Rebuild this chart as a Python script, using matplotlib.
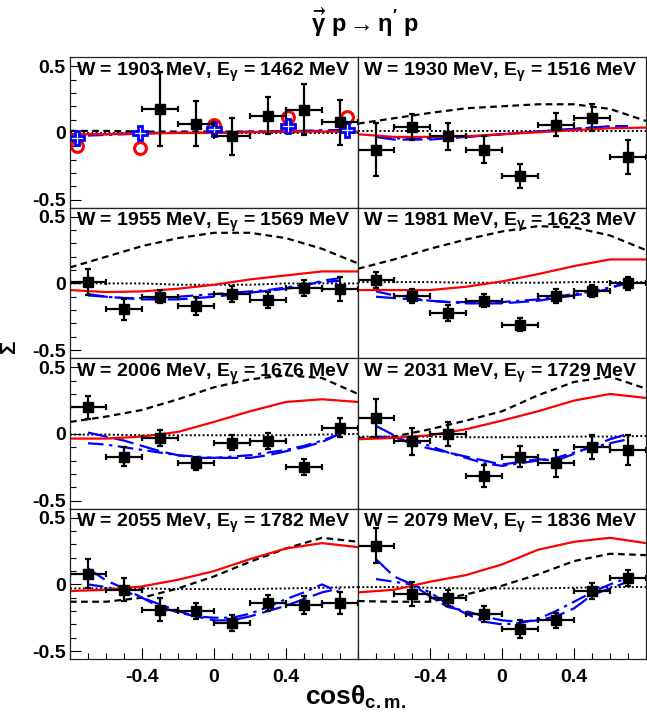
import numpy as np
import matplotlib
matplotlib.use('Agg')
import matplotlib.pyplot as plt
from matplotlib.ticker import MultipleLocator, FixedLocator, FuncFormatter

plt.rcParams['font.family'] = 'Liberation Sans'
plt.rcParams['font.weight'] = 'bold'
plt.rcParams['mathtext.fontset'] = 'custom'
plt.rcParams['mathtext.rm'] = 'Liberation Sans:bold'
plt.rcParams['mathtext.bf'] = 'Liberation Sans:bold'
plt.rcParams['mathtext.it'] = 'Liberation Sans:bold'
plt.rcParams['mathtext.default'] = 'regular'
plt.rcParams['axes.unicode_minus'] = False

# energy bins
W_vals = [1903, 1930, 1955, 1981, 2006, 2031, 2055, 2079]
Eg_vals = [1462, 1516, 1569, 1623, 1676, 1729, 1782, 1836]

# measured beam asymmetry (this work)
cos_data = [-0.7, -0.5, -0.3, -0.1, 0.1, 0.3, 0.5, 0.7]
cos_halfwidth = 0.1
sigma = [
    [np.nan, np.nan, 0.18, 0.07, -0.025, 0.13, 0.175, 0.08],
    [-0.125, 0.045, -0.025, -0.125, -0.32, 0.063, 0.115, -0.18],
    [0.01, -0.195, -0.10, -0.17, -0.08, -0.125, -0.035, -0.045],
    [0.025, -0.095, -0.22, -0.13, -0.31, -0.095, -0.06, 0.0],
    [0.20, -0.17, -0.03, -0.22, -0.065, -0.055, -0.25, 0.047],
    [0.12, -0.055, 0.0, -0.315, -0.17, -0.22, -0.10, -0.12],
    [0.08, -0.04, -0.19, -0.20, -0.29, -0.14, -0.155, -0.14],
    [0.29, -0.07, -0.10, -0.22, -0.335, -0.27, -0.05, 0.045],
]
sigma_err = [
    [np.nan, np.nan, 0.28, 0.17, 0.14, 0.14, 0.19, 0.17],
    [0.20, 0.095, 0.10, 0.10, 0.09, 0.085, 0.10, 0.13],
    [0.10, 0.08, 0.05, 0.07, 0.06, 0.06, 0.06, 0.09],
    [0.06, 0.05, 0.06, 0.05, 0.05, 0.05, 0.045, 0.05],
    [0.085, 0.07, 0.06, 0.05, 0.055, 0.06, 0.06, 0.07],
    [0.14, 0.10, 0.09, 0.08, 0.08, 0.10, 0.09, 0.11],
    [0.11, 0.085, 0.085, 0.06, 0.06, 0.06, 0.07, 0.08],
    [0.13, 0.09, 0.06, 0.06, 0.07, 0.055, 0.06, 0.06],
]

# earlier measurements in the first bin
cos_prev = [-0.76, -0.41, 0.0, 0.41, 0.74]
sigma_prev_red = [-0.10, -0.11, 0.06, 0.12, 0.12]
sigma_prev_blue = [-0.04, 0.0, 0.03, 0.05, 0.025]

# model curves
cos_model = [-0.8, -0.6, -0.4, -0.2, 0.0, 0.2, 0.4, 0.6, 0.8]
model_dashed = [
    [0.015, 0.015, 0.01, 0.01, 0.01, 0.01, 0.01, 0.01, 0.01],
    [0.07, 0.11, 0.15, 0.185, 0.20, 0.215, 0.215, 0.18, 0.09],
    [0.12, 0.20, 0.28, 0.34, 0.38, 0.38, 0.34, 0.26, 0.15],
    [0.11, 0.18, 0.26, 0.33, 0.39, 0.43, 0.42, 0.36, 0.25],
    [0.09, 0.13, 0.18, 0.26, 0.35, 0.41, 0.44, 0.42, 0.30],
    [-0.03, -0.02, 0.035, 0.10, 0.17, 0.29, 0.39, 0.43, 0.34],
    [-0.13, -0.13, -0.10, -0.03, 0.06, 0.17, 0.27, 0.35, 0.32],
    [-0.125, -0.13, -0.13, -0.075, -0.01, 0.075, 0.175, 0.23, 0.22],
]
model_red = [
    [-0.01, -0.01, -0.005, 0.0, 0.0, 0.005, 0.01, 0.01, 0.01],
    [-0.01, -0.03, -0.03, -0.025, -0.01, 0.005, 0.02, 0.035, 0.04],
    [-0.05, -0.065, -0.06, -0.04, -0.01, 0.03, 0.06, 0.09, 0.09],
    [-0.05, -0.05, -0.05, -0.025, 0.015, 0.07, 0.13, 0.18, 0.18],
    [-0.035, -0.035, -0.02, 0.015, 0.09, 0.17, 0.24, 0.26, 0.24],
    [-0.04, -0.03, -0.01, 0.035, 0.10, 0.17, 0.25, 0.30, 0.27],
    [-0.05, -0.04, -0.015, 0.035, 0.10, 0.19, 0.27, 0.31, 0.28],
    [-0.06, -0.04, 0.02, 0.07, 0.15, 0.26, 0.32, 0.35, 0.31],
]
model_dotted = [
    [0.0, 0.0, 0.0, 0.0, 0.0, 0.0, 0.0, 0.0, 0.0],
    [0.015, 0.015, 0.015, 0.015, 0.015, 0.015, 0.015, 0.015, 0.015],
    [0.0, 0.0, 0.0, -0.01, -0.01, -0.01, 0.0, 0.0, 0.0],
    [0.01, 0.01, 0.01, 0.005, 0.005, 0.005, 0.01, 0.01, 0.01],
    [-0.005, -0.005, -0.01, -0.01, -0.01, -0.01, -0.01, -0.005, 0.0],
    [-0.02, -0.02, -0.02, -0.025, -0.025, -0.025, -0.02, -0.02, -0.015],
    [-0.03, -0.03, -0.03, -0.035, -0.035, -0.035, -0.03, -0.025, -0.02],
    [-0.02, -0.02, -0.025, -0.03, -0.03, -0.03, -0.025, -0.02, -0.02],
]

cos_blue = [-0.7, -0.6, -0.5, -0.4, -0.3, -0.2, -0.1, 0.0, 0.1, 0.2, 0.3, 0.4, 0.5, 0.6, 0.7]
blue_dashed = [
    [-0.01, -0.01, -0.005, 0.0, 0.0, 0.0, 0.0, 0.0, 0.005, 0.005, 0.01, 0.01, 0.015, 0.015, 0.02],
    [-0.03, -0.05, -0.05, -0.05, -0.04, -0.03, -0.02, -0.01, 0.0, 0.01, 0.02, 0.03, 0.04, 0.05, 0.05],
    [-0.08, -0.10, -0.11, -0.12, -0.12, -0.12, -0.11, -0.10, -0.085, -0.07, -0.055, -0.04, -0.02, 0.02, 0.04],
    [-0.10, -0.11, -0.12, -0.13, -0.14, -0.14, -0.15, -0.15, -0.14, -0.13, -0.11, -0.09, -0.07, -0.04, 0.02],
    [0.01, -0.02, -0.05, -0.09, -0.13, -0.16, -0.18, -0.18, -0.18, -0.18, -0.16, -0.13, -0.10, -0.06, 0.0],
    [0.06, -0.01, -0.08, -0.11, -0.14, -0.17, -0.20, -0.23, -0.21, -0.19, -0.20, -0.15, -0.09, -0.04, 0.0],
    [0.12, 0.03, -0.03, -0.10, -0.17, -0.21, -0.24, -0.27, -0.27, -0.24, -0.20, -0.16, -0.11, -0.06, -0.03],
    [0.19, 0.06, 0.0, -0.09, -0.17, -0.20, -0.24, -0.27, -0.28, -0.27, -0.24, -0.18, -0.08, -0.03, 0.02],
]
blue_dashdot = [
    [-0.02, -0.015, -0.01, -0.005, 0.0, 0.0, 0.0, 0.005, 0.005, 0.01, 0.01, 0.015, 0.015, 0.02, 0.02],
    [-0.02, -0.04, -0.045, -0.04, -0.035, -0.03, -0.02, -0.01, 0.0, 0.01, 0.02, 0.03, 0.04, 0.05, 0.05],
    [-0.09, -0.10, -0.11, -0.11, -0.11, -0.10, -0.09, -0.08, -0.07, -0.06, -0.05, -0.03, -0.01, 0.01, 0.02],
    [-0.06, -0.09, -0.11, -0.13, -0.14, -0.15, -0.15, -0.14, -0.13, -0.12, -0.10, -0.08, -0.06, -0.03, 0.0],
    [-0.07, -0.08, -0.10, -0.12, -0.14, -0.16, -0.17, -0.18, -0.17, -0.16, -0.14, -0.12, -0.09, -0.05, 0.0],
    [-0.02, -0.03, -0.05, -0.09, -0.14, -0.18, -0.22, -0.24, -0.22, -0.20, -0.18, -0.14, -0.10, -0.07, -0.04],
    [0.0, -0.02, -0.05, -0.10, -0.15, -0.20, -0.24, -0.25, -0.25, -0.22, -0.17, -0.11, -0.06, 0.0, -0.06],
    [0.04, 0.02, 0.0, -0.06, -0.15, -0.22, -0.28, -0.30, -0.29, -0.26, -0.20, -0.13, -0.06, 0.0, 0.05],
]
x_ticks = [-0.4, 0.0, 0.4]

W, H = 647, 713
fig = plt.figure(figsize=(W / 100, H / 100), dpi=100)

x_left, x_mid, x_right = 70, 358, 646
y_top, row_h = 57, 150.5


def tick_fmt(v, pos):
    if abs(v) < 1e-9:
        return '0'
    return f'{v:g}'


for i in range(8):
    row, col = divmod(i, 2)
    x0 = x_left if col == 0 else x_mid
    x1 = x_mid if col == 0 else x_right
    ytop_px = y_top + row * row_h
    ax = fig.add_axes([x0 / W, 1 - (ytop_px + row_h) / H, (x1 - x0) / W, row_h / H])

    ax.plot(cos_model, model_dotted[i], color='black', ls=(0, (1, 1.2)), lw=1.4)
    ax.plot(cos_model, model_dashed[i], color='black', ls=(0, (3, 2)), lw=1.6)
    ax.plot(cos_blue, blue_dashdot[i], color='#0000ff', ls=(0, (7, 2.5, 1.5, 2.5)), lw=1.6)
    ax.plot(cos_blue, blue_dashed[i], color='#0000ff', ls=(0, (9, 3)), lw=1.6)
    ax.plot(cos_model, model_red[i], color='#ff0000', lw=1.6)

    if i == 0:
        ax.plot(cos_prev, sigma_prev_red, 'o', ms=8.5, mfc='none', mec='#ff0000', mew=2.2)
        ax.plot(cos_prev, sigma_prev_blue, 'P', ms=10, mfc='white', mec='#0000ff', mew=2)

    ax.errorbar(cos_data, sigma[i], xerr=cos_halfwidth, yerr=sigma_err[i], fmt='s',
                color='black', ms=7, elinewidth=1.6, capsize=2.5, capthick=1.6)

    ax.text(0.022 if col == 0 else 0.016, 0.975,
            rf'W = {W_vals[i]} MeV, $\mathbf{{E}}_{{\gamma}}$ = {Eg_vals[i]} MeV',
            transform=ax.transAxes, ha='left', va='top', fontsize=14, fontweight='bold')

    ax.set_xlim(-0.8, 0.8)
    ax.set_ylim(-0.56, 0.57)
    ax.xaxis.set_major_locator(FixedLocator(x_ticks))
    ax.xaxis.set_minor_locator(MultipleLocator(0.1))
    ax.yaxis.set_major_locator(MultipleLocator(0.5))
    ax.yaxis.set_minor_locator(MultipleLocator(0.1))
    ax.tick_params(which='major', direction='in', length=8, width=0.8, labelsize=14, pad=3)
    ax.tick_params(which='minor', direction='in', length=4, width=0.8)
    ax.xaxis.set_major_formatter(FuncFormatter(tick_fmt))
    ax.yaxis.set_major_formatter(FuncFormatter(tick_fmt))
    if row != 3:
        ax.tick_params(axis='x', which='both', bottom=False, labelbottom=False)
    else:
        ax.tick_params(axis='x', which='major', pad=7)
    if col == 1:
        ax.tick_params(axis='y', which='both', left=False, labelleft=False)
    for s in ax.spines.values():
        s.set_linewidth(0.9)
        s.set_color('#222222')

fig.text(365 / W, 1 - 22 / H, r'$\vec{\gamma}\ \mathbf{p} \rightarrow \eta^{\prime}\ \mathbf{p}$',
         ha='center', va='center', fontsize=17)
fig.text(11 / W, 1 - 348 / H, r'$\Sigma$', rotation=90, ha='center', va='center', fontsize=16)
fig.text(355 / W, 1 - 705 / H, r'cos$\theta_{c.m.}$', ha='center', va='baseline', fontsize=19,
         fontweight='bold')

fig.savefig('out.png', dpi=100)
